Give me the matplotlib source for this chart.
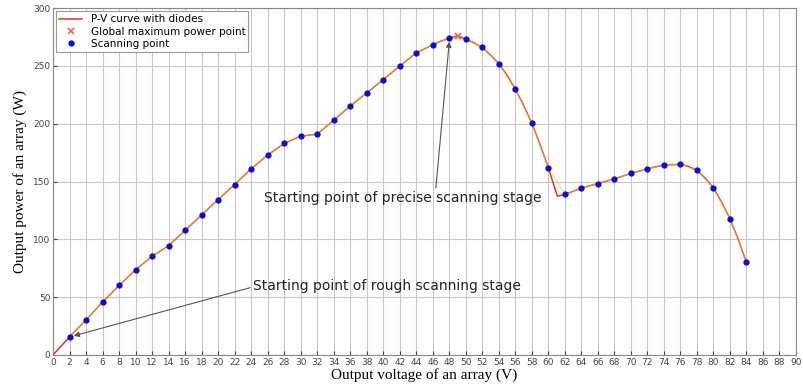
import numpy as np
import matplotlib.pyplot as plt

# P-V curve
curve_v = [0, 2, 4, 6, 8, 10, 12, 14, 16, 18, 20, 22, 24, 26, 28, 30, 32, 34, 36, 38,
           40, 42, 44, 46, 47, 48, 49, 50, 51, 52, 53, 54, 55, 56, 57, 58, 59, 60, 61.1,
           62, 64, 66, 68, 70, 72, 74, 76, 77, 78, 79, 80, 81, 82, 83, 84]
curve_p = [0, 15.6, 30.3, 45.7, 60.1, 73.7, 85.3, 94.5, 107.8, 121.1, 134.4, 147.4, 161, 172.9, 183, 189.3, 191, 203, 215.4, 226.6,
           238.2, 250, 261.3, 268.3, 271.5, 274, 276, 273.2, 270, 266, 259.5, 252, 242, 229.8, 216, 200.6, 182, 161.9, 137.3,
           138.8, 144.3, 148.3, 152.3, 157, 161, 164.4, 164.8, 163, 159.6, 153, 144.6, 132, 118, 100, 80]

# scanning points
scan_v = [2, 4, 6, 8, 10, 12, 14, 16, 18, 20, 22, 24, 26, 28, 30, 32, 34, 36, 38, 40, 42,
          44, 46, 48, 50, 52, 54, 56, 58, 60, 62, 64, 66, 68, 70, 72, 74, 76, 78, 80, 82, 84]
scan_p = [15.6, 30.3, 45.7, 60.1, 73.7, 85.3, 94.5, 107.8, 121.1, 134.4, 147.4, 161, 172.9, 183, 189.3, 191, 203, 215.4, 226.6, 238.2, 250,
          261.3, 268.3, 274, 273.2, 266, 252, 229.8, 200.6, 161.9, 138.8, 144.3, 148.3, 152.3, 157, 161, 164.4, 164.8, 159.6, 144.6, 118, 80]

gmpp_v = 49
gmpp_p = 276

fig = plt.figure(figsize=(8.04, 3.9), dpi=100)
ax = fig.add_axes([0.066, 0.09, 0.924, 0.889])

ax.plot(curve_v, curve_p, color='#e03030', lw=1.1, label='P-V curve with diodes')
ax.plot(scan_v, scan_p, color='#e0d050', lw=1.0, alpha=0.55)
ax.plot(gmpp_v, gmpp_p, 'x', color='#f06060', ms=5, mew=1.2, label='Global maximum power point')
ax.plot(scan_v, scan_p, 'o', color='#1010c0', ms=3.5, ls='none', label='Scanning point')

ax.annotate('Starting point of rough scanning stage', xy=(2.5, 16.5), xytext=(24.2, 60),
            fontsize=10, va='center', ha='left', color='#222222',
            arrowprops=dict(arrowstyle='-|>', color='#555555', lw=0.8, mutation_scale=8,
                            shrinkA=0, shrinkB=0, relpos=(0, 0.4)))
ax.annotate('Starting point of precise scanning stage', xy=(48, 271), xytext=(25.5, 136),
            fontsize=10, va='center', ha='left', color='#222222',
            arrowprops=dict(arrowstyle='-|>', color='#555555', lw=0.8, mutation_scale=8,
                            shrinkA=0, shrinkB=0, relpos=(0.62, 1.0)))

ax.set_xlim(0, 90)
ax.set_ylim(0, 300)
ax.set_xticks(np.arange(0, 91, 2))
ax.set_yticks(np.arange(0, 301, 50))
ax.tick_params(labelsize=6.5, direction='in', length=3, pad=2, colors='#444444')
ax.grid(True, color='#c8c8c8', lw=0.8)
for s in ax.spines.values():
    s.set_color('#888888')

ax.set_xlabel('Output voltage of an array (V)', family='Liberation Serif', fontsize=11, labelpad=1)
ax.set_ylabel('Output power of an array (W)', family='Liberation Serif', fontsize=11, labelpad=4)

leg = ax.legend(loc='upper left', fontsize=7.5, fancybox=False, framealpha=1,
                edgecolor='#999999', borderpad=0.3, labelspacing=0.2, handlelength=2.2,
                borderaxespad=0.3)
leg.get_frame().set_linewidth(0.8)

fig.savefig('out.png', dpi=100)
